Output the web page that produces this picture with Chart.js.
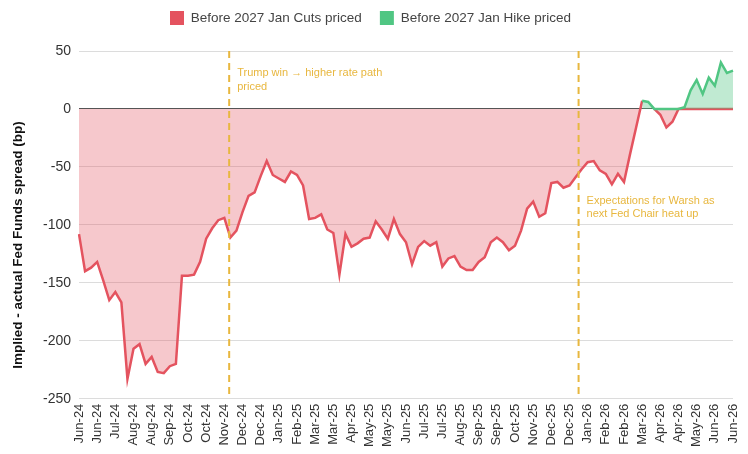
<!DOCTYPE html>
<html>
<head>
<meta charset="utf-8">
<script src="https://cdn.jsdelivr.net/npm/chart.js@4.4.1/dist/chart.umd.min.js"></script>
<style>
  html, body { margin: 0; padding: 0; background: #ffffff; }
  #wrap { width: 748px; height: 454px; }
</style>
</head>
<body>
<div id="wrap"><canvas id="c" width="748" height="454"></canvas></div>
<script>
// ---- Data (weekly, starting Mon 3 Jun 2024) ----
const startWeek = '2024-06-03';
const weekCount = 109;

const cutsSeries = [
  -108, -140, -137, -132, -148, -165, -158, -167, -233, -207,
  -203, -220, -214, -227, -228, -222, -220, -144, -144, -143,
  -132, -112, -103,  -96,  -94, -111, -105,  -89,  -75,  -72,
   -58,  -45,  -57,  -60,  -63,  -54,  -57,  -66,  -95,  -94,
   -91, -104, -107, -143, -108, -119, -116, -112, -111,  -97,
  -104, -112,  -95, -108, -115, -134, -119, -114, -118, -115,
  -136, -129, -127, -136, -139, -139, -132, -128, -115, -111,
  -115, -122, -118, -105,  -86,  -80,  -93,  -90,  -64,  -63,
   -68,  -66,  -59,  -52,  -46,  -45,  -53,  -56,  -65,  -56,
   -63,  -39,  -16,    7, null,    0,   -5,  -16,  -11,    0,
     0,    0,    0,    0,    0,    0,    0,    0,    0
];

const hikeSeries = [
  null, null, null, null, null, null, null, null, null, null,
  null, null, null, null, null, null, null, null, null, null,
  null, null, null, null, null, null, null, null, null, null,
  null, null, null, null, null, null, null, null, null, null,
  null, null, null, null, null, null, null, null, null, null,
  null, null, null, null, null, null, null, null, null, null,
  null, null, null, null, null, null, null, null, null, null,
  null, null, null, null, null, null, null, null, null, null,
  null, null, null, null, null, null, null, null, null, null,
  null, null, null,    7,    6,    0,    0,    0,    0,    0,
   1.5,   16,   25,   13,   27,   20,   40,   31,   33
];

const yTicks = [50, 0, -50, -100, -150, -200, -250];
const seriesNames = ['Before 2027 Jan Cuts priced', 'Before 2027 Jan Hike priced'];
const yTitle = 'Implied - actual Fed Funds spread (bp)';

// event markers: position in weeks from start, label y-value, text lines
const eventWeeks = [24.8, 82.5];
const eventLabelY = [31, -79];
const eventTexts = [
  ['Trump win \u2192 higher rate path', 'priced'],
  ['Expectations for Warsh as', 'next Fed Chair heat up']
];

// ---- Week labels "Mon-YY" ----
const monthNames = ['Jan','Feb','Mar','Apr','May','Jun','Jul','Aug','Sep','Oct','Nov','Dec'];
const weekLabels = [];
{
  const d0 = new Date(startWeek + 'T12:00:00Z');
  for (let i = 0; i < weekCount; i++) {
    const d = new Date(d0.getTime() + i * 7 * 86400000);
    weekLabels.push(monthNames[d.getUTCMonth()] + '-' + String(d.getUTCFullYear()).slice(2));
  }
}

// ---- Styles ----
const RED = '#E4535F';
const RED_FILL = 'rgba(228, 83, 95, 0.32)';
const GREEN = '#50C683';
const GREEN_FILL = 'rgba(80, 198, 131, 0.36)';
const GOLD = '#E8B73F';
const FONT = "'Liberation Sans', Arial, Helvetica, sans-serif";

const eventPlugin = {
  id: 'events',
  afterDatasetsDraw(chart) {
    const { ctx, chartArea, scales } = chart;
    ctx.save();
    eventWeeks.forEach((w, k) => {
      const x = scales.x.getPixelForValue(w);
      ctx.strokeStyle = GOLD;
      ctx.lineWidth = 2;
      ctx.setLineDash([7, 5]);
      ctx.beginPath();
      ctx.moveTo(x, chartArea.top);
      ctx.lineTo(x, chartArea.bottom);
      ctx.stroke();
      ctx.setLineDash([]);
      ctx.fillStyle = GOLD;
      ctx.font = '11px ' + FONT;
      ctx.textAlign = 'left';
      ctx.textBaseline = 'middle';
      const y0 = scales.y.getPixelForValue(eventLabelY[k]);
      eventTexts[k].forEach((t, j) => ctx.fillText(t, x + 8, y0 + j * 13.5));
    });
    ctx.restore();
  },
  afterDraw(chart) {
    const { ctx } = chart;
    ctx.save();
    ctx.translate(18, 245);
    ctx.rotate(-Math.PI / 2);
    ctx.fillStyle = '#111';
    ctx.font = 'bold 13.5px ' + FONT;
    ctx.textAlign = 'center';
    ctx.textBaseline = 'middle';
    ctx.fillText(yTitle, 0, 0);
    ctx.restore();
  }
};

const legendSpacer = {
  id: 'legendSpacer',
  beforeInit(chart) {
    const orig = chart.legend.fit;
    chart.legend.fit = function () {
      orig.bind(chart.legend)();
      this.height += 16;
    };
  }
};

new Chart(document.getElementById('c'), {
  type: 'line',
  data: {
    labels: weekLabels,
    datasets: [
      {
        label: seriesNames[0],
        data: cutsSeries,
        borderColor: RED,
        backgroundColor: RED_FILL,
        borderWidth: 2.5,
        pointRadius: 0,
        fill: 'origin',
        tension: 0,
        order: 1
      },
      {
        label: seriesNames[1],
        data: hikeSeries,
        borderColor: GREEN,
        backgroundColor: GREEN_FILL,
        borderWidth: 2.5,
        pointRadius: 0,
        fill: 'origin',
        tension: 0,
        order: 0
      }
    ]
  },
  options: {
    responsive: false,
    animation: false,
    devicePixelRatio: 1,
    layout: { padding: { left: 8, right: 15, top: -7, bottom: 2 } },
    plugins: {
      legend: {
        position: 'top',
        labels: {
          boxWidth: 14,
          boxHeight: 14,
          padding: 18,
          color: '#444',
          font: { family: FONT, size: 13.5 },
          sort: (a, b) => a.datasetIndex - b.datasetIndex,
          generateLabels(chart) {
            const items = Chart.defaults.plugins.legend.labels.generateLabels(chart);
            items.forEach(it => {
              const ds = chart.data.datasets[it.datasetIndex];
              it.fillStyle = ds.borderColor;
              it.strokeStyle = ds.borderColor;
              it.lineWidth = 0;
            });
            return items;
          }
        }
      },
      tooltip: { enabled: false }
    },
    scales: {
      x: {
        grid: { display: false, drawTicks: false },
        border: { display: false },
        afterFit(scale) { scale.paddingLeft = 0; scale.paddingRight = 0; },
        ticks: {
          autoSkip: false,
          maxRotation: 90,
          minRotation: 90,
          padding: 5,
          color: '#333',
          font: { family: FONT, size: 13 },
          callback(value, index) { return index % 3 === 0 ? weekLabels[index] : null; }
        }
      },
      y: {
        min: -250,
        max: 50,
        afterBuildTicks(scale) { scale.ticks = yTicks.map(v => ({ value: v })); },
        afterFit(scale) { scale.width = 71; },
        grid: {
          drawTicks: false,
          color: ctx => (ctx.tick && ctx.tick.value === 0 ? '#555' : '#dcdcdc'),
          lineWidth: 1
        },
        border: { display: false },
        ticks: {
          padding: 8,
          color: '#333',
          font: { family: FONT, size: 14 }
        }
      }
    }
  },
  plugins: [eventPlugin, legendSpacer]
});
</script>
</body>
</html>
